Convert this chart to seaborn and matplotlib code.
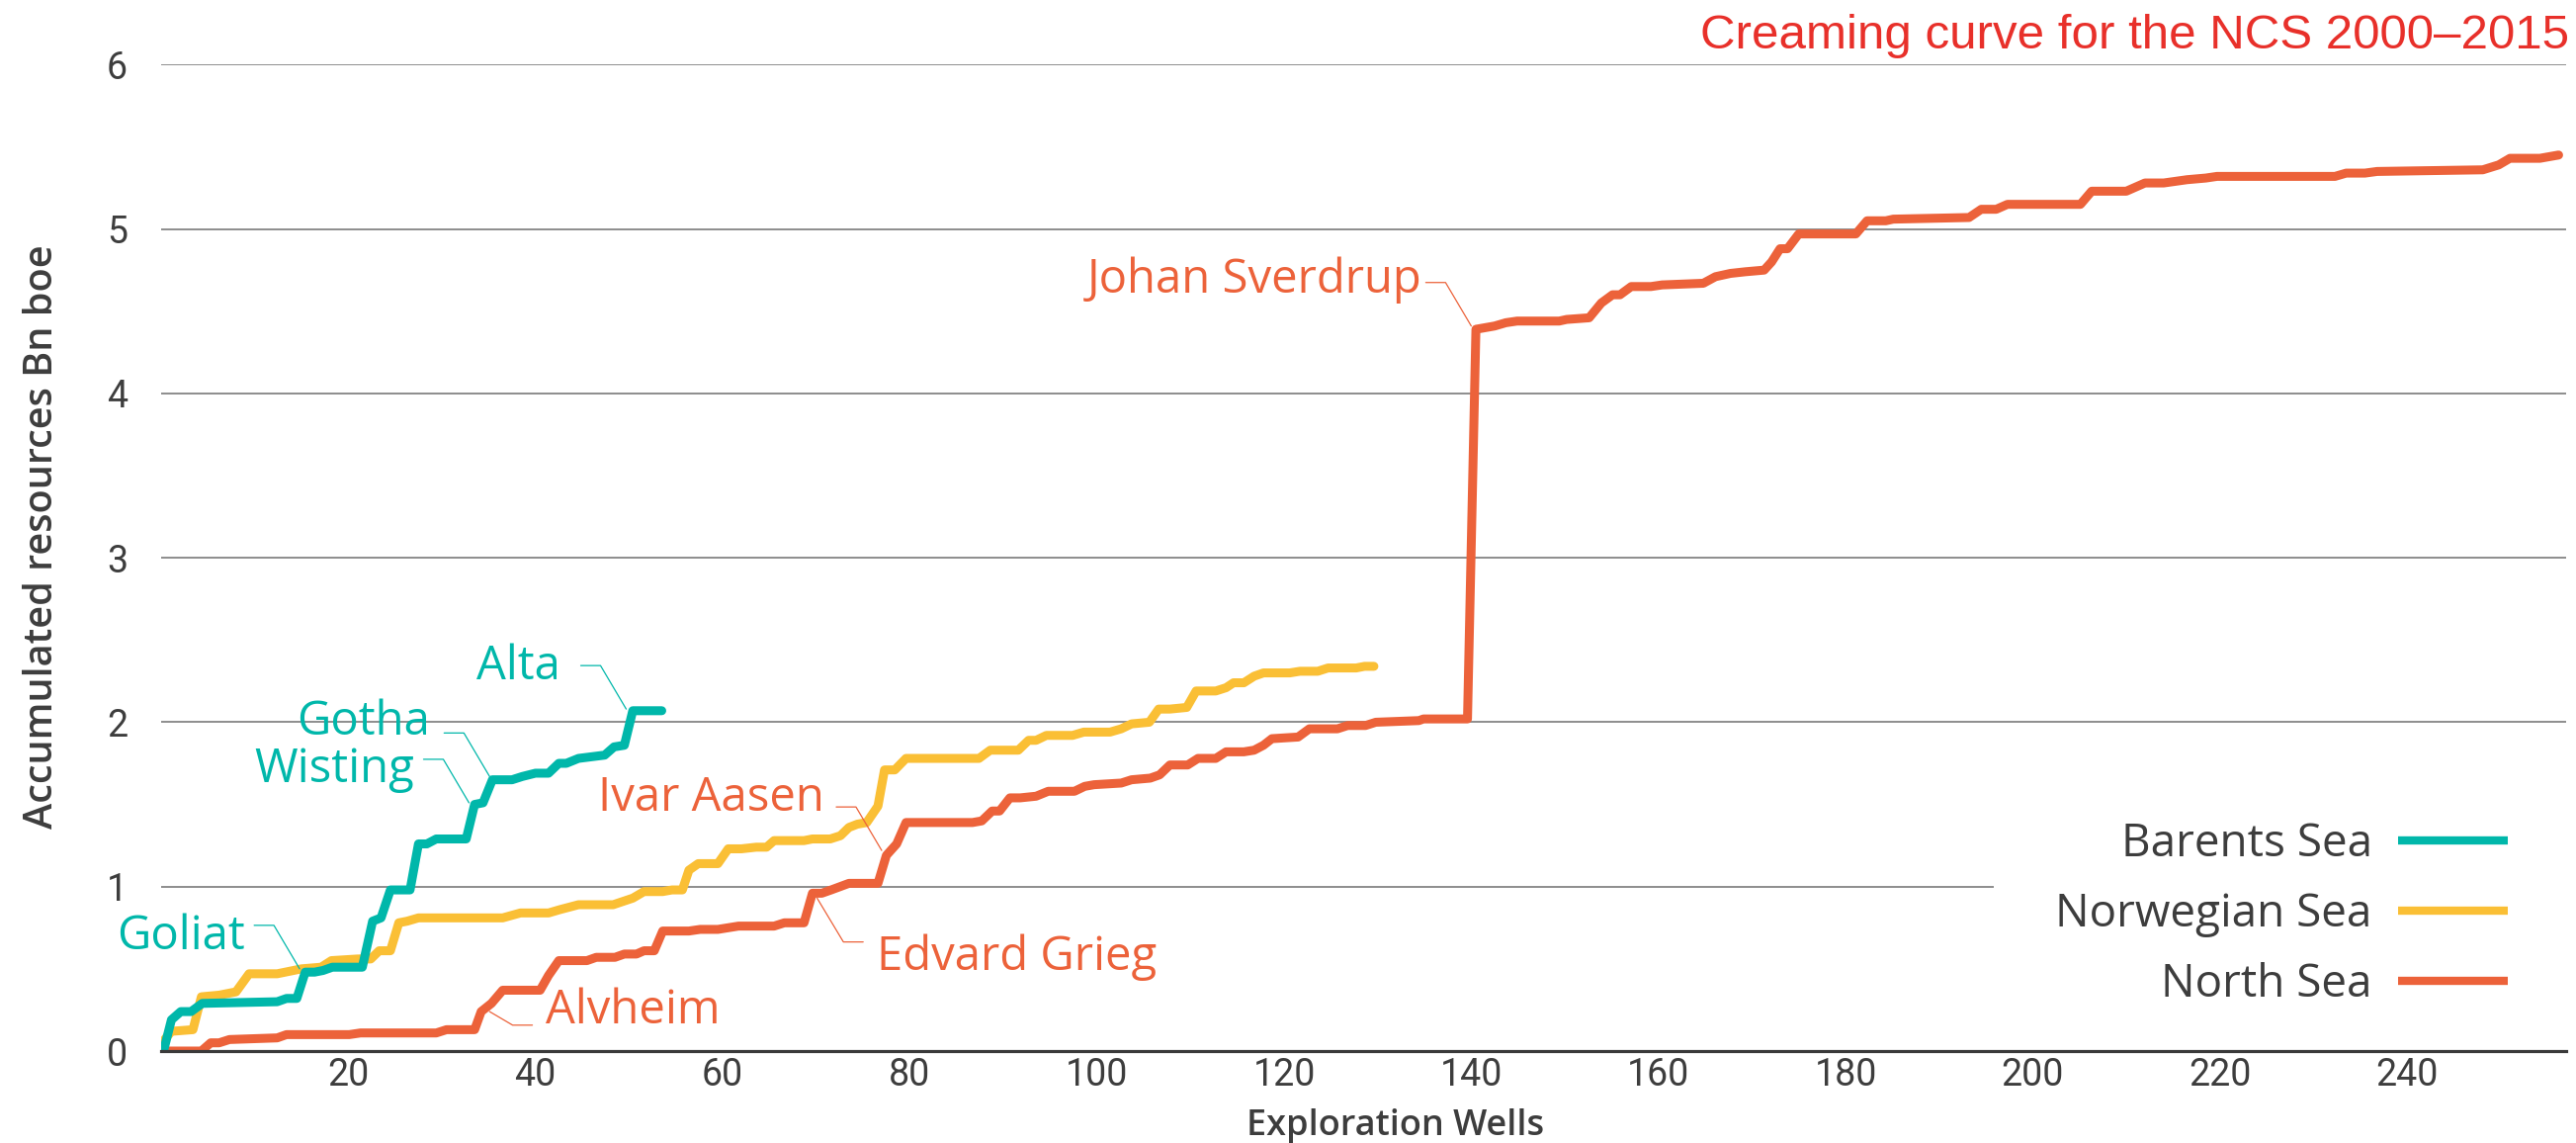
import matplotlib
matplotlib.use("Agg")
import matplotlib.pyplot as plt
import matplotlib.transforms as mtransforms
from matplotlib.lines import Line2D
import pandas as pd
import seaborn as sns

# ---- creaming curves: accumulated resources (Bn boe) per exploration well ----
barents_wells = [0.3, 1.1, 2.1, 3.2, 4.4, 12.4, 13.4, 14.5, 15.4, 16.4, 17.3, 18.3,
                 21.5, 22.6, 23.5, 24.5, 26.6, 27.5, 28.4, 29.4, 32.6, 33.5, 34.4,
                 35.4, 37.5, 38.6, 40.0, 41.4, 42.5, 43.3, 44.6, 47.4, 48.4, 49.5,
                 50.4, 53.5]
barents_res = [0.01, 0.19, 0.24, 0.24, 0.29, 0.30, 0.32, 0.32, 0.48, 0.48, 0.49, 0.51,
               0.51, 0.79, 0.81, 0.98, 0.98, 1.26, 1.26, 1.29, 1.29, 1.50, 1.51,
               1.65, 1.65, 1.67, 1.69, 1.69, 1.75, 1.75, 1.78, 1.80, 1.85, 1.86,
               2.07, 2.07]

norwegian_wells = [0.1, 1.1, 3.4, 4.3, 6.2, 8.0, 9.4, 12.4, 15.0, 17.1, 18.2, 21.0,
                   22.4, 23.3, 24.5, 25.4, 26.3, 27.5, 36.5, 38.4, 41.4, 42.6, 44.6,
                   48.3, 50.4, 51.6, 53.6, 54.6, 55.7, 56.4, 57.4, 59.5, 60.6, 62.0,
                   63.6, 64.7, 65.5, 68.7, 69.6, 71.5, 72.6, 73.5, 74.4, 75.4, 76.6,
                   77.3, 78.4, 79.6, 87.4, 88.6, 91.6, 92.7, 93.5, 94.6, 97.4, 98.6,
                   101.4, 102.6, 103.7, 105.6, 106.6, 107.8, 109.6, 110.6, 112.7,
                   113.8, 114.6, 115.7, 116.8, 117.8, 120.6, 121.7, 123.6, 124.7,
                   127.7, 128.6, 129.6]
norwegian_res = [0.05, 0.12, 0.13, 0.33, 0.34, 0.36, 0.47, 0.47, 0.50, 0.51, 0.55, 0.56,
                 0.56, 0.61, 0.61, 0.78, 0.79, 0.81, 0.81, 0.84, 0.84, 0.86, 0.89,
                 0.89, 0.93, 0.97, 0.97, 0.98, 0.98, 1.10, 1.14, 1.14, 1.23, 1.23,
                 1.24, 1.24, 1.28, 1.28, 1.29, 1.29, 1.31, 1.36, 1.38, 1.39, 1.49,
                 1.71, 1.71, 1.78, 1.78, 1.83, 1.83, 1.89, 1.89, 1.92, 1.92, 1.94,
                 1.94, 1.96, 1.99, 2.00, 2.08, 2.08, 2.09, 2.19, 2.19,
                 2.21, 2.24, 2.24, 2.28, 2.30, 2.30, 2.31, 2.31, 2.33,
                 2.33, 2.34, 2.34]

north_wells = [0.3, 4.3, 5.3, 6.2, 7.3, 12.4, 13.4, 20.1, 21.3, 29.4, 30.5, 33.5, 34.2,
               35.3, 36.5, 40.5, 41.4, 42.5, 45.5, 46.5, 48.5, 49.5, 50.8, 51.6, 52.7,
               53.6, 56.4, 57.6, 59.5, 61.7, 65.5, 66.6, 68.7, 69.6, 70.6, 71.6, 73.5,
               76.6, 77.5, 78.6, 79.6, 86.7, 87.7, 88.8, 89.6, 90.7, 91.8, 93.5, 94.8,
               97.6, 98.7, 99.7, 102.6, 103.7, 105.7, 106.7, 107.8, 109.7, 110.8,
               112.7, 113.8, 115.7, 116.8, 117.8, 118.7, 121.5, 122.7, 125.7, 126.8,
               128.7, 129.8, 134.4, 134.9, 139.6, 140.5, 142.5, 143.7, 144.9, 149.4,
               150.2, 152.6, 153.9, 155.1, 155.9, 157.1, 159.2, 160.4, 164.8, 166.1,
               167.7, 169.3, 171.3, 172.1, 173.0, 173.8, 175.0, 181.1, 182.3, 184.3,
               185.1, 193.2, 194.5, 196.1, 197.3, 205.1, 206.3, 210.0, 212.0, 214.0,
               216.5, 218.5, 219.7, 232.3, 233.5, 235.5, 236.8, 248.1, 249.8, 251.0,
               254.2, 256.2]
north_res = [0.00, 0.00, 0.05, 0.05, 0.07, 0.08, 0.10, 0.10, 0.11, 0.11, 0.13, 0.13, 0.24,
             0.29, 0.37, 0.37, 0.46, 0.55, 0.55, 0.57, 0.57, 0.59, 0.59, 0.61, 0.61,
             0.73, 0.73, 0.74, 0.74, 0.76, 0.76, 0.78, 0.78, 0.96, 0.96, 0.98, 1.02,
             1.02, 1.19, 1.26, 1.39, 1.39, 1.40, 1.46, 1.46, 1.54, 1.54, 1.55, 1.58,
             1.58, 1.61, 1.62, 1.63, 1.65, 1.66, 1.68, 1.74, 1.74, 1.78,
             1.78, 1.82, 1.82, 1.83, 1.86, 1.90, 1.91, 1.96, 1.96, 1.98,
             1.98, 2.00, 2.01, 2.02, 2.02, 4.39, 4.41, 4.43, 4.44, 4.44,
             4.45, 4.46, 4.55, 4.60, 4.60, 4.65, 4.65, 4.66, 4.67, 4.71,
             4.73, 4.74, 4.75, 4.80, 4.88, 4.88, 4.97, 4.97, 5.05, 5.05,
             5.06, 5.07, 5.12, 5.12, 5.15, 5.15, 5.23, 5.23, 5.28, 5.28,
             5.30, 5.31, 5.32, 5.32, 5.34, 5.34, 5.35, 5.36, 5.39, 5.43,
             5.43, 5.45]

seas = ["Barents Sea", "Norwegian Sea", "North Sea"]
sea_colors = ["#00B7AA", "#FABF35", "#EC623A"]

x_ticks = list(range(20, 241, 20))
y_ticks = [0, 1, 2, 3, 4, 5, 6]

# named discoveries and the point on their curve where the leader ends
discovery_names = ["Goliat", "Wisting", "Gotha", "Alta",
                   "Alvheim", "Edvard Grieg", "Ivar Aasen", "Johan Sverdrup"]
discovery_seas = ["Barents Sea", "Barents Sea", "Barents Sea", "Barents Sea",
                  "North Sea", "North Sea", "North Sea", "North Sea"]
discovery_wells = [14.8, 32.9, 35.1, 49.7, 35.1, 70.1, 77.0, 140.0]
discovery_res = [0.50, 1.51, 1.67, 2.08, 0.24, 0.93, 1.22, 4.41]

TEXT = "#3d3d3d"
TITLE_RED = "#E8302A"
SANS = ["Open Sans", "DejaVu Sans"]

# ---- long-form table ----
frames = []
for name, w, r in zip(seas, [barents_wells, norwegian_wells, north_wells],
                      [barents_res, norwegian_res, north_res]):
    frames.append(pd.DataFrame({"Exploration Wells": w, "Resources": r, "Sea": name}))
df = pd.concat(frames, ignore_index=True)

sns.set_theme(style="white")
plt.rcParams["font.family"] = SANS

W, H = 2606, 1156
fig = plt.figure(figsize=(W / 100, H / 100), dpi=100)
ax_left, ax_right, ax_top, ax_bottom = 163, 2596, 65, 1063
ax = fig.add_axes([ax_left / W, 1 - ax_bottom / H,
                   (ax_right - ax_left) / W, (ax_bottom - ax_top) / H])

sns.lineplot(data=df, x="Exploration Wells", y="Resources", hue="Sea",
             hue_order=seas, palette=dict(zip(seas, sea_colors)),
             estimator=None, sort=False, linewidth=6.5, ax=ax)
# Barents curve sits on top where it crosses the Norwegian Sea curve
ax.lines[0].set_zorder(2.2)

ax.set_xlim(0, 257)
ax.set_ylim(0, 6.002)
ax.set_xticks(x_ticks)
ax.set_yticks(y_ticks)

# grid and spines
ax.grid(axis="y", color="#7a7a7a", linewidth=1.2)
ax.grid(axis="x", visible=False)
for side in ["left", "right", "top"]:
    ax.spines[side].set_visible(False)
ax.spines["bottom"].set_color("#3a3a3a")
ax.spines["bottom"].set_linewidth(2.3)
ax.spines["bottom"].set_zorder(2.5)

ax.tick_params(axis="y", length=0, pad=24.5, labelsize=27, labelcolor=TEXT)
ax.tick_params(axis="x", length=0, pad=4.3, labelsize=27, labelcolor=TEXT)
for lab in ax.get_xticklabels() + ax.get_yticklabels():
    lab.set_fontfamily(["Roboto", "DejaVu Sans"])

ax.set_xlabel("Exploration Wells", fontsize=26, fontweight="semibold", color=TEXT)
ax.xaxis.set_label_coords(0.513, -0.0849)
ax.xaxis.label.set_va("baseline")
ax.set_ylabel("Accumulated resources Bn boe", fontsize=28.5, fontweight="semibold",
              color=TEXT)
ax.yaxis.set_label_coords(-0.0494, 0.521)
ax.yaxis.label.set_va("center")

# legend: labels on the left, line keys on the right, white panel
old = ax.get_legend()
handles = list(old.legend_handles)
labels = [t.get_text() for t in old.get_texts()]
old.remove()
leg = ax.legend(handles, labels, loc="center right",
                bbox_to_anchor=(2599 / W, 1 - 925 / H), bbox_transform=fig.transFigure,
                borderaxespad=0, borderpad=1.35, markerfirst=False,
                handlelength=2.43, handletextpad=0.57, labelspacing=0.55,
                frameon=True, fancybox=False, framealpha=1,
                facecolor="white", edgecolor="none",
                prop={"family": SANS, "size": 33},
                labelcolor=TEXT)
for line in leg.get_lines():
    line.set_linewidth(6)
    line.set_solid_capstyle("butt")
leg.set_zorder(1)
ax.yaxis.set_zorder(0.4)
ax.xaxis.set_zorder(3)

# discovery labels with bent leader lines (offsets in pixels from the curve point)
label_style = {
    "Goliat": ((-55, 20.2), "right", [(-46, 44), (-26, 44), (0, 0)]),
    "Wisting": ((-55.7, 21.3), "right", [(-46, 44), (-26, 44), (0, 0)]),
    "Gotha": ((-60, 41.9), "right", [(-46, 44), (-26, 44), (0, 0)]),
    "Alta": ((-66.6, 30.3), "right", [(-46, 44), (-26, 44), (0, 0)]),
    "Ivar Aasen": ((-58.4, 40.3), "right", [(-46, 44), (-26, 44), (0, 0)]),
    "Johan Sverdrup": ((-50, 33.6), "right", [(-46, 44), (-26, 44), (0, 0)]),
    "Edvard Grieg": ((60.6, -73), "left", [(46.6, -44.3), (26.6, -44.3), (0, 0)]),
    "Alvheim": ((56.7, -12.4), "left", [(43.3, -13.7), (23.3, -13.7), (0, 0)]),
}
color_of = dict(zip(seas, sea_colors))
for name, sea, w, r in zip(discovery_names, discovery_seas, discovery_wells, discovery_res):
    (dx, dy), ha, leader = label_style[name]
    col = color_of[sea]
    ax.annotate(name, xy=(w, r), xytext=(dx, dy), textcoords="offset pixels",
                ha=ha, va="baseline", fontsize=34, color=col,
                family=SANS, zorder=4)
    anchor = mtransforms.ScaledTranslation(w, r, ax.transData)
    ax.add_artist(Line2D([p[0] for p in leader], [p[1] for p in leader],
                         transform=anchor, color=col, linewidth=0.9,
                         clip_on=False, zorder=4))

fig.text(0.9975, 1 - 49.3 / H, "Creaming curve for the NCS 2000\u20132015",
         ha="right", va="baseline", fontsize=35.5, color=TITLE_RED,
         family=["Liberation Sans", "DejaVu Sans"])

fig.savefig("out.png", dpi=100, facecolor="white")
